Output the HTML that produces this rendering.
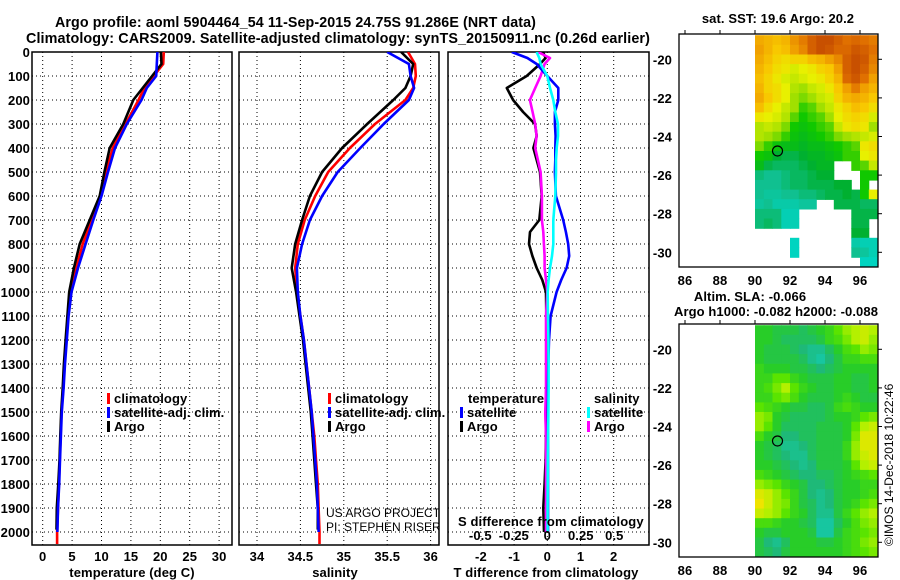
<!DOCTYPE html>
<html><head><meta charset="utf-8">
<style>
html,body{margin:0;padding:0;background:#fff;}
svg{display:block;font-family:"Liberation Sans",sans-serif;}
.b{font-weight:bold;font-size:13px;letter-spacing:0.1px;}
</style></head>
<body>
<svg id="c" width="900" height="580" viewBox="0 0 900 580" xmlns="http://www.w3.org/2000/svg">
<text x="55" y="27" class="b" style="font-size:15px" textLength="481" lengthAdjust="spacingAndGlyphs">Argo profile: aoml 5904464_54 11-Sep-2015 24.75S 91.286E (NRT data)</text>
<text x="26" y="43" class="b" style="font-size:15px" textLength="624" lengthAdjust="spacingAndGlyphs">Climatology: CARS2009. Satellite-adjusted climatology: synTS_20150911.nc (0.26d earlier)</text>
<text x="778" y="23" text-anchor="middle" class="b">sat. SST: 19.6 Argo: 20.2</text>
<text x="750" y="301" text-anchor="middle" class="b">Altim. SLA: -0.066</text>
<text x="776" y="316" text-anchor="middle" class="b">Argo h1000: -0.082 h2000: -0.088</text>
<text transform="translate(893,546) rotate(-90)" font-size="12">©IMOS 14-Dec-2018 10:22:46</text>
<g id="g"></g>
</svg>
<script>
// ---- profile data ----
const depthProf = [0,50,100,150,200,300,400,500,600,700,800,900,1000,1100,1200,1300,1400,1500,1600,1700,1800,1900,2000,2050];
const depthArgo = [0,50,100,150,200,300,400,500,600,700,800,900,1000,1100,1200,1300,1400,1500,1600,1700,1800,1900,1990];
const tempClim = [20.6,20.5,18.9,17.3,16.3,14.1,11.9,10.8,9.8,8.3,6.8,5.7,4.7,4.3,4.0,3.7,3.5,3.2,3.05,2.9,2.75,2.6,2.45,2.45];
const tempSat  = [19.5,19.4,19.3,17.7,16.8,14.3,12.3,11.1,10.0,8.6,7.3,6.0,4.9,4.4,4.1,3.8,3.55,3.25,3.1,2.95,2.8,2.6,2.5];
const tempArgo = [20.1,20.2,18.6,17.0,15.4,13.7,11.4,10.5,9.7,8.0,6.3,5.3,4.5,4.2,3.9,3.6,3.4,3.15,3.0,2.85,2.65,2.4,2.35];
const salClim = [35.74,35.82,35.83,35.80,35.71,35.36,35.07,34.82,34.67,34.55,34.47,34.44,34.46,34.50,34.54,34.57,34.60,34.63,34.66,34.68,34.70,34.71,34.72,34.72];
const salSat  = [35.50,35.75,35.77,35.81,35.75,35.46,35.19,34.93,34.75,34.61,34.52,34.46,34.47,34.50,34.54,34.57,34.60,34.63,34.65,34.67,34.69,34.70,34.71];
const salArgo = [35.66,35.80,35.77,35.71,35.57,35.27,34.98,34.75,34.61,34.52,34.44,34.40,34.45,34.49,34.53,34.56,34.59,34.62,34.64,34.66,34.68,34.70,34.70];
const depthDiff = [0,25,50,100,150,200,250,300,350,400,450,500,600,700,750,800,850,900,950,1000,1100,1200,1300,1400,1500,1600,1700,1800,1900,2000];
const dTArgo = [-0.13,-0.05,-0.22,-0.62,-1.22,-1.03,-0.73,-0.37,-0.32,-0.42,-0.32,-0.22,-0.17,-0.24,-0.52,-0.55,-0.45,-0.32,-0.15,-0.04,-0.03,-0.02,-0.03,-0.03,-0.05,-0.04,-0.05,-0.08,-0.12,-0.1];
const dTSat = [-1.07,-0.6,-0.32,0.0,0.33,0.33,0.23,0.23,0.25,0.24,0.24,0.23,0.26,0.48,0.56,0.63,0.66,0.58,0.42,0.28,0.1,0.05,0.03,0.02,0.02,0.02,0.02,0.02,0.02,0.02];
const dSSat = [-0.08,-0.06,-0.05,0,0.02,0.045,0.06,0.08,0.08,0.07,0.065,0.065,0.06,0.045,0.045,0.045,0.035,0.02,0.01,0.003,0.005,0.008,0.01,0.01,0.008,0.006,0.004,0.003,0.002,0.002];
const dSArgo = [-0.07,0.02,-0.02,-0.05,-0.09,-0.13,-0.11,-0.09,-0.08,-0.09,-0.07,-0.05,-0.04,-0.04,-0.03,-0.025,-0.02,-0.02,-0.01,0,-0.01,-0.01,-0.01,-0.01,-0.015,-0.01,-0.01,-0.01,-0.01,-0.01];
// ---- ticks ----
const depthTicks = [0,100,200,300,400,500,600,700,800,900,1000,1100,1200,1300,1400,1500,1600,1700,1800,1900,2000];
const tempTicks = [0,5,10,15,20,25,30];
const salTicks = [34,34.5,35,35.5,36];
const dTTicks = [-2,-1,0,1,2];
const dSTickVals = [-0.5,-0.25,0,0.25,0.5];
const dSTickLabels = ["-0.5","-0.25","0","0.25","0.5"];
const lonTicks = [86,88,90,92,94,96];
const latTicks = [-20,-22,-24,-26,-28,-30];
// ---- map data (0.5 deg cells, lon 90..97, lat -18.75..-30.75) ----
const N = NaN;
const sstRows = [
[20.9,20.8,20.7,20.8,21.1,21.3,21.6,21.8,21.8,21.6,21.4,21.5,21.4,21.3],
[21.0,20.8,20.6,20.7,21.0,21.2,21.6,21.8,21.7,21.5,21.5,21.7,21.6,21.4],
[20.9,20.7,20.5,20.4,20.5,20.5,20.7,20.8,21.0,21.2,21.6,21.8,21.7,21.3],
[20.8,20.6,20.4,20.3,20.1,20.2,20.3,20.5,20.6,21.0,21.6,21.8,21.6,21.2],
[20.7,20.5,20.3,20.1,20.0,20.1,20.2,20.3,20.5,20.8,21.5,21.7,21.4,21.0],
[20.8,20.5,20.4,20.2,19.9,19.8,20.0,20.1,20.3,20.6,21.0,21.3,21.0,20.8],
[20.9,20.6,20.4,20.2,19.8,19.7,19.8,20.0,20.1,20.5,20.8,20.9,20.8,20.6],
[20.7,20.4,20.2,20.0,19.8,19.5,19.6,19.8,20.0,20.3,20.5,20.7,20.6,20.4],
[20.3,20.2,20.1,19.9,19.6,19.4,19.5,19.6,19.8,20.2,20.4,20.5,20.4,20.1],
[19.9,20.0,19.9,19.7,19.4,19.3,19.4,19.5,19.6,20.0,20.3,20.4,20.3,19.8],
[19.9,19.8,19.7,19.5,19.3,19.2,19.3,19.4,19.5,19.7,19.8,19.9,20.0,20.1],
[19.7,19.5,19.3,19.2,19.2,19.1,19.2,19.2,19.3,19.4,19.5,19.6,20.3,20.4],
[19.4,19.3,19.0,18.9,18.9,19.0,19.1,19.1,19.2,19.3,19.5,19.5,20.2,20.3],
[19.2,18.9,18.8,18.8,18.8,18.9,19.0,19.1,19.1,N,N,19.5,19.6,20.0],
[18.7,18.6,18.6,18.7,18.8,18.8,18.9,19.0,19.0,N,N,N,19.4,19.4],
[18.6,18.6,18.6,18.7,18.8,18.8,18.9,18.9,18.9,19.0,19.0,N,19.4,N],
[18.6,18.5,18.5,18.6,18.6,18.7,18.7,18.8,18.9,18.9,19.0,18.9,19.4,20.2],
[18.5,18.6,18.4,18.4,18.4,18.5,18.5,N,N,18.9,18.9,18.9,18.8,18.8],
[18.7,18.7,18.7,18.3,18.3,N,N,N,N,N,N,18.9,18.9,18.9],
[18.7,18.8,18.7,18.3,18.3,N,N,N,N,N,N,18.9,18.9,N],
[N,N,N,N,N,N,N,N,N,N,N,19.0,19.0,N],
[N,N,N,N,18.2,N,N,N,N,N,N,18.4,18.3,18.3],
[N,N,N,N,18.2,N,N,N,N,N,N,18.6,18.5,18.3],
[N,N,N,N,N,N,N,N,N,N,N,N,18.2,18.2]];
const slaRows = [
[-.06,-.06,-.07,-.07,-.07,-.08,-.07,-.06,-.05,-.03,-.01,.00,.01,.00],
[-.06,-.06,-.07,-.08,-.08,-.08,-.08,-.07,-.05,-.04,-.02,.00,.01,-.01],
[-.06,-.07,-.07,-.07,-.08,-.09,-.10,-.10,-.08,-.06,-.04,-.03,-.01,-.02],
[-.06,-.07,-.07,-.07,-.07,-.08,-.10,-.11,-.09,-.07,-.05,-.05,-.04,-.04],
[-.05,-.06,-.06,-.06,-.07,-.07,-.08,-.09,-.08,-.07,-.06,-.06,-.06,-.06],
[-.05,-.05,-.03,-.03,-.05,-.06,-.07,-.07,-.07,-.06,-.06,-.07,-.07,-.06],
[-.05,-.04,-.02,.00,-.03,-.05,-.06,-.07,-.07,-.06,-.06,-.07,-.07,-.06],
[-.05,-.05,-.03,-.02,-.04,-.06,-.07,-.07,-.07,-.06,-.05,-.06,-.07,-.07],
[-.03,-.04,-.05,-.06,-.07,-.07,-.08,-.08,-.07,-.05,-.04,-.05,-.06,-.06],
[-.01,-.02,-.06,-.07,-.08,-.08,-.08,-.08,-.07,-.06,-.06,-.05,-.03,-.02],
[-.01,-.03,-.06,-.08,-.08,-.08,-.08,-.07,-.07,-.07,-.06,-.03,.00,.01],
[-.04,-.06,-.07,-.09,-.09,-.08,-.08,-.07,-.07,-.07,-.06,-.02,.02,.02],
[-.06,-.07,-.08,-.10,-.10,-.09,-.08,-.07,-.07,-.07,-.05,-.01,.02,.02],
[-.06,-.07,-.08,-.09,-.10,-.10,-.08,-.07,-.07,-.07,-.05,-.01,.01,.02],
[-.06,-.06,-.07,-.08,-.09,-.10,-.09,-.07,-.07,-.07,-.06,-.03,.00,.01],
[-.04,-.05,-.06,-.07,-.08,-.09,-.09,-.08,-.08,-.07,-.06,-.05,-.04,-.03],
[-.01,-.02,-.03,-.05,-.06,-.07,-.09,-.09,-.08,-.07,-.06,-.06,-.05,-.05],
[.02,.01,-.01,-.03,-.05,-.07,-.09,-.10,-.09,-.07,-.06,-.06,-.05,-.04],
[.03,.01,-.01,-.02,-.05,-.07,-.08,-.10,-.09,-.07,-.06,-.05,-.03,-.02],
[.01,.00,-.01,-.03,-.05,-.06,-.08,-.10,-.10,-.07,-.05,-.03,-.01,.00],
[-.04,-.04,-.05,-.06,-.06,-.07,-.08,-.11,-.11,-.08,-.06,-.04,-.02,-.01],
[-.06,-.07,-.07,-.06,-.06,-.06,-.07,-.11,-.11,-.07,-.05,-.04,-.03,-.02],
[-.07,-.09,-.10,-.08,-.06,-.06,-.06,-.07,-.07,-.06,-.05,-.04,-.02,-.01],
[-.07,-.08,-.09,-.07,-.06,-.06,-.06,-.06,-.06,-.06,-.05,-.04,-.03,-.02]];
const argoLon = 91.286, argoLat = -24.75;

const NS = "http://www.w3.org/2000/svg";
const G = document.getElementById('g');
function mk(tag, attrs, parent){ const e=document.createElementNS(NS,tag); for(const k in attrs) e.setAttribute(k,attrs[k]); (parent||G).appendChild(e); return e; }
const yD = d => 52 + d*0.24;
const PT = 545;
const xT = t => 42.7 + t*5.88;
const xS = s => 257 + (s-34)*86.8;
const xdT = v => 547.3 + v*33.2;
const xdS = v => 547.3 + v*134;

function panel(name, x0, x1, xs, ticks, labels){
  const g = mk('g',{});
  
  
  ticks.forEach(t=>{ const l=mk('line',{x1:xs(t),x2:xs(t),y1:52,y2:PT,stroke:'#000','stroke-width':1,'stroke-dasharray':'1,3'},g);
      });
  depthTicks.slice(1).forEach(d=>{ const l=mk('line',{x1:x0,x2:x1,y1:yD(d),y2:yD(d),stroke:'#000','stroke-width':1,'stroke-dasharray':'1,3'},g);
      });
  ticks.forEach((t,i)=>{ const tx=mk('text',{x:xs(t),y:561,'text-anchor':'middle',class:'b'},g); tx.textContent=labels[i];
      });
  const r = mk('rect',{x:x0,y:52,width:x1-x0,height:PT-52,fill:'none',stroke:'#000','stroke-width':1.5},g);
   
  return g;
}
function line(g, xs, xv, dv, color, name, clip){
  const pts = xv.map((v,i)=>xs(v).toFixed(1)+','+yD(dv[i]).toFixed(1)).join(' ');
  const p = mk('polyline',{points:pts,fill:'none',stroke:color,'stroke-width':2.6,'stroke-linejoin':'round'},g);
  if(clip) p.setAttribute('clip-path',clip);
  
  
}
const defs = mk('defs',{});
[['c1',32,52,200],['c2',239,52,200],['c3',448,52,201]].forEach(a=>{ const cp=mk('clipPath',{id:a[0]},defs); mk('rect',{x:a[1],y:a[2],width:a[3],height:PT-52},cp); });

depthTicks.forEach(d=>{ const t=mk('text',{x:30,y:yD(d)+5,'text-anchor':'end',class:'b'}); t.textContent=d;
    });

const g1 = panel('temperature-panel',32,232,xT,tempTicks,tempTicks.map(String));
line(g1,xT,tempClim,depthProf,'#f00','temperature-climatology-line','url(#c1)');
line(g1,xT,tempArgo,depthArgo,'#000','temperature-argo-line','url(#c1)');
line(g1,xT,tempSat,depthProf.slice(0,tempSat.length),'#00f','temperature-satellite-line','url(#c1)');
const g2 = panel('salinity-panel',239,439,xS,salTicks,salTicks.map(String));
line(g2,xS,salClim,depthProf,'#f00','salinity-climatology-line','url(#c2)');
line(g2,xS,salArgo,depthArgo,'#000','salinity-argo-line','url(#c2)');
line(g2,xS,salSat,depthProf.slice(0,salSat.length),'#00f','salinity-satellite-line','url(#c2)');
const g3 = panel('difference-panel',448,649,xdT,dTTicks,dTTicks.map(String));
line(g3,xdT,dTArgo,depthDiff,'#000','t-diff-argo-line','url(#c3)');
line(g3,xdS,dSArgo,depthDiff,'#f0f','s-diff-argo-line','url(#c3)');
line(g3,xdT,dTSat,depthDiff,'#00f','t-diff-satellite-line','url(#c3)');
line(g3,xdS,dSSat,depthDiff,'#0ff','s-diff-satellite-line','url(#c3)');
dSTickVals.forEach((v,i)=>{ const t=mk('text',{x:xdS(v),y:540,'text-anchor':'middle',class:'b'}); t.textContent=dSTickLabels[i];
    });
function txt(x,y,s,name,extra){ const t=mk('text',Object.assign({x:x,y:y,class:'b'},extra||{})); t.textContent=s;
    return t; }
txt(458,526,'S difference from climatology','s-diff-axis-title');
txt(132,577,'temperature (deg C)','temperature-axis-title',{'text-anchor':'middle'});
txt(335,577,'salinity','salinity-axis-title',{'text-anchor':'middle'});
txt(546,577,'T difference from climatology','t-diff-axis-title',{'text-anchor':'middle'});

function legItem(x,y,color,label,name){
  const r=mk('rect',{x:x,y:y-10,width:3,height:11,fill:color});
   
  txt(x+7,y,label,name);
}
legItem(107,403,'#f00','climatology','legend-climatology');
legItem(107,417,'#00f','satellite-adj. clim.','legend-satellite');
legItem(107,431,'#000','Argo','legend-argo');
legItem(328,403,'#f00','climatology','legend2-climatology');
legItem(328,417,'#00f','satellite-adj. clim.','legend2-satellite');
legItem(328,431,'#000','Argo','legend2-argo');
txt(468,403,'temperature','legend-temperature-heading');
legItem(460,417,'#00f','satellite','legend-t-satellite');
legItem(460,431,'#000','Argo','legend-t-argo');
txt(594,403,'salinity','legend-salinity-heading');
legItem(587,417,'#0ff','satellite','legend-s-satellite');
legItem(587,431,'#f0f','Argo','legend-s-argo');
const cr = mk('g',{'clip-path':'url(#c2)'});
[['US ARGO PROJECT',517],['PI: STEPHEN RISER',531]].forEach(a=>{ const t=mk('text',{x:326,y:a[1],'font-size':12,'font-weight':'normal'},cr); t.textContent=a[0];
    });

function lerpC(stops, v){
  if(v<=stops[0][0]) return 'rgb('+stops[0][1].join(',')+')';
  for(let i=1;i<stops.length;i++){ if(v<=stops[i][0]){ const a=stops[i-1],b=stops[i],f=(v-a[0])/(b[0]-a[0]);
    const c=a[1].map((x,k)=>Math.round(x+(b[1][k]-x)*f)); return 'rgb('+c.join(',')+')'; } }
  return 'rgb('+stops[stops.length-1][1].join(',')+')';
}
const sstStops = [[18.2,[0,212,192]],[18.6,[16,192,144]],[19.0,[0,176,48]],[19.4,[16,200,0]],[19.8,[160,224,0]],[20.2,[232,240,0]],[20.6,[248,200,0]],[21.0,[240,160,0]],[21.4,[224,112,0]],[21.8,[200,80,0]]];
const slaStops = [[-0.12,[20,205,180]],[-0.09,[30,185,120]],[-0.06,[40,205,40]],[-0.03,[90,228,0]],[0.0,[180,240,0]],[0.03,[240,228,0]]];
function map(name, oy, rows, stops){
  const g=mk('g',{});  
  const lonX = l => 685 + (l-86)*17.5;
  const latY = la => oy + 59.3 + (-20-la)*19.3;
  rows.forEach((row,i)=>row.forEach((v,j)=>{ if(isNaN(v)) return;
    const x=lonX(90+0.5*j), y=latY(-18.75-0.5*i);
    const r=mk('rect',{x:x.toFixed(1),y:y.toFixed(1),width:(17.5*0.5+0.6).toFixed(1),height:(19.3*0.5+0.6).toFixed(1),fill:lerpC(stops,v)},g);
      }));
  const c=mk('circle',{cx:lonX(argoLon),cy:latY(argoLat),r:5,fill:'none',stroke:'#000','stroke-width':1.2},g);
   
  const fr=mk('rect',{x:679,y:oy+34,width:199,height:233,fill:'none',stroke:'#000','stroke-width':1.3},g);
   
  lonTicks.forEach(l=>{ mk('line',{x1:lonX(l),x2:lonX(l),y1:oy+34,y2:oy+30,stroke:'#000'},g);
    const t=mk('text',{x:lonX(l),y:oy+285,'text-anchor':'middle',class:'b'},g); t.textContent=l;
      });
  latTicks.forEach(la=>{ mk('line',{x1:878,x2:882,y1:latY(la),y2:latY(la),stroke:'#000'},g);
    const t=mk('text',{x:672,y:latY(la)+5,'text-anchor':'end',class:'b'},g); t.textContent=la;
      });
}
map('sst-map',0,sstRows,sstStops);
map('sla-map',290,slaRows,slaStops);
</script>
</body></html>
